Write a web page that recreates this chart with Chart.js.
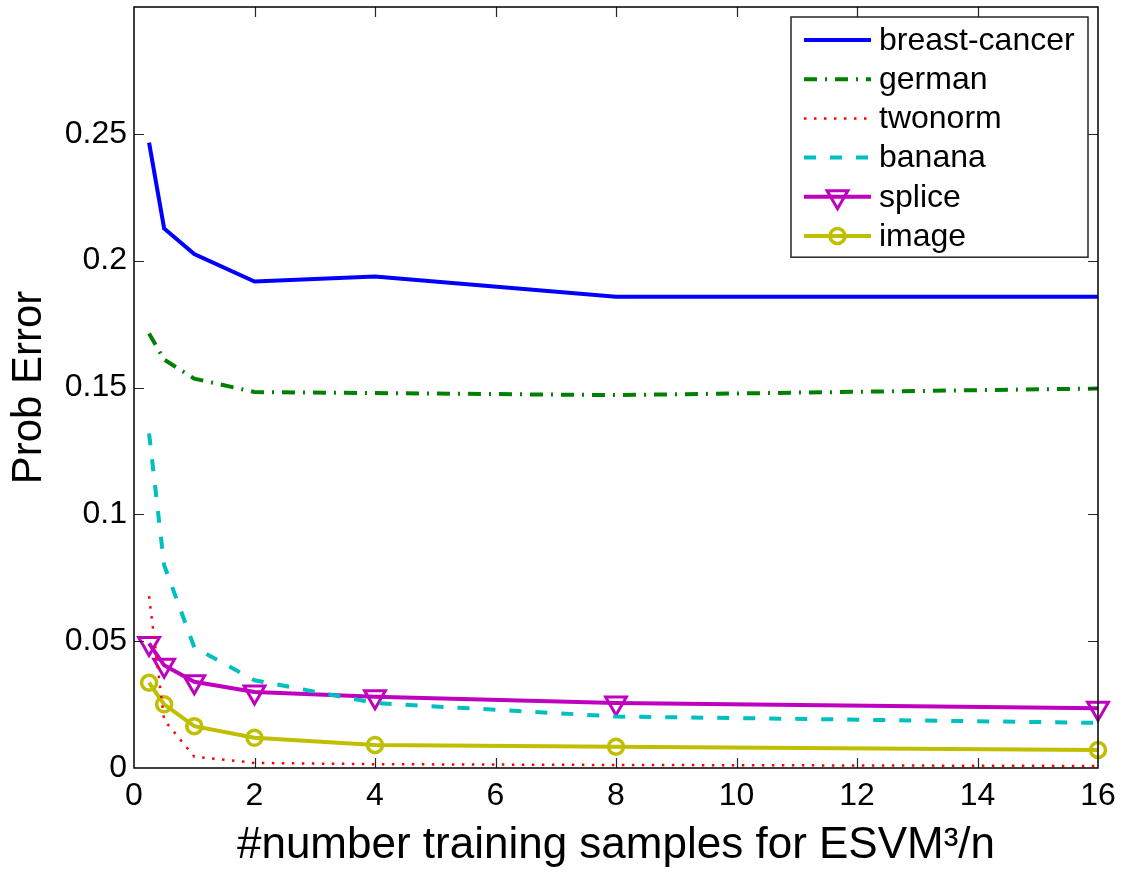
<!DOCTYPE html>
<html>
<head>
<meta charset="utf-8">
<title>Prob Error vs training samples</title>
<script src="https://cdn.jsdelivr.net/npm/chart.js@4.4.1/dist/chart.umd.min.js"></script>
<style>
    html, body { margin: 0; padding: 0; background: #fff; }
    #wrap { width: 1123px; height: 873px; }
</style>
</head>
<body>
<div id="wrap"><canvas id="chart" width="1123" height="873"></canvas></div>
<script>
// x positions (#number training samples / n)
const samples = [0.25, 0.5, 1, 2, 4, 8, 16];

// probability of error per data set
const breastCancer = [0.2465, 0.2127, 0.2026, 0.1918, 0.1938, 0.1858, 0.1858];
const german = [0.1713, 0.1610, 0.1535, 0.1482, 0.1478, 0.1470, 0.1496];
const twonorm = [0.0677, 0.0189, 0.0045, 0.0020, 0.0015, 0.0012, 0.0008];
const banana = [0.1319, 0.0800, 0.0476, 0.0346, 0.0256, 0.0203, 0.0178];
const splice = [0.0491, 0.0405, 0.0340, 0.0300, 0.0281, 0.0256, 0.0236];
const image = [0.0336, 0.0251, 0.0165, 0.0119, 0.0091, 0.0084, 0.0071];

const xTicks = [0, 2, 4, 6, 8, 10, 12, 14, 16];
const yTicks = [0, 0.05, 0.1, 0.15, 0.2, 0.25];

const FONT = '"Liberation Sans", Arial, Helvetica, sans-serif';

function points(values) {
    return samples.map((x, i) => ({ x, y: values[i] }));
}

function series(label, values, color, extra) {
    return Object.assign({
        label,
        data: points(values),
        borderColor: color,
        backgroundColor: color,
        borderWidth: 4,
        pointRadius: 0,
        pointHoverRadius: 0,
        tension: 0,
        fill: false,
        clip: false
    }, extra || {});
}

const datasets = [
    series('breast-cancer', breastCancer, '#0000ff'),
    series('german', german, '#008000', { borderDash: [13, 8, 2, 8] }),
    series('twonorm', twonorm, '#ff0000', { borderWidth: 2.5, borderDash: [2.5, 7.5] }),
    series('banana', banana, '#00bfbf', { borderDash: [12, 14] }),
    series('splice', splice, '#bf00bf', {
        pointStyle: 'triangle', rotation: 180, pointRadius: 12,
        pointBorderWidth: 3, pointBackgroundColor: 'rgba(0,0,0,0)'
    }),
    series('image', image, '#bfbf00', {
        pointStyle: 'circle', pointRadius: 7.5,
        pointBorderWidth: 3.5, pointBackgroundColor: 'rgba(0,0,0,0)'
    })
];

// MATLAB style box with inward ticks on all four sides
const boxTicks = {
    id: 'boxTicks',
    afterDatasetsDraw(chart) {
        const { ctx, chartArea: a } = chart;
        const xs = chart.scales.x;
        const ys = chart.scales.y;
        const len = 10;
        ctx.save();
        ctx.strokeStyle = '#262626';
        ctx.lineWidth = 1.2;
        ctx.beginPath();
        xTicks.forEach(v => {
            const px = Math.round(xs.getPixelForValue(v)) + 0.5;
            if (px <= a.left + 1 || px >= a.right - 1) return;
            ctx.moveTo(px, a.bottom); ctx.lineTo(px, a.bottom - len);
            ctx.moveTo(px, a.top); ctx.lineTo(px, a.top + len);
        });
        yTicks.forEach(v => {
            const py = Math.round(ys.getPixelForValue(v)) + 0.5;
            if (py <= a.top + 1 || py >= a.bottom - 1) return;
            ctx.moveTo(a.left, py); ctx.lineTo(a.left + len, py);
            ctx.moveTo(a.right, py); ctx.lineTo(a.right - len, py);
        });
        ctx.stroke();
        ctx.strokeStyle = '#000';
        ctx.lineWidth = 1.5;
        ctx.strokeRect(a.left, a.top, a.right - a.left, a.bottom - a.top);
        ctx.restore();
    }
};

function drawMarker(ctx, ds, x, y) {
    const r = ds.pointRadius;
    ctx.save();
    ctx.setLineDash([]);
    ctx.lineWidth = ds.pointBorderWidth;
    ctx.strokeStyle = ds.borderColor;
    ctx.beginPath();
    if (ds.pointStyle === 'triangle') {
        const h = Math.sqrt(3) / 2 * r;
        ctx.moveTo(x - h, y - r / 2);
        ctx.lineTo(x + h, y - r / 2);
        ctx.lineTo(x, y + r);
        ctx.closePath();
    } else {
        ctx.arc(x, y, r, 0, Math.PI * 2);
    }
    ctx.stroke();
    ctx.restore();
}

// legend box in the upper right corner of the plot
const boxLegend = {
    id: 'boxLegend',
    afterDraw(chart) {
        const { ctx, chartArea: a } = chart;
        const w = 297, rowH = 39.2;
        const left = a.right - 10 - w;
        const top = a.top + 10;
        const h = rowH * chart.data.datasets.length + 5;
        ctx.save();
        ctx.fillStyle = '#fff';
        ctx.fillRect(left, top, w, h);
        ctx.strokeStyle = '#262626';
        ctx.lineWidth = 1.5;
        ctx.strokeRect(left, top, w, h);
        ctx.font = '32px ' + FONT;
        ctx.textBaseline = 'middle';
        ctx.textAlign = 'left';
        chart.data.datasets.forEach((ds, i) => {
            const y = top + 23 + i * rowH;
            const x0 = left + 13, x1 = left + 80;
            ctx.save();
            ctx.strokeStyle = ds.borderColor;
            ctx.lineWidth = ds.borderWidth;
            ctx.setLineDash(ds.borderDash || []);
            ctx.beginPath();
            ctx.moveTo(x0, y);
            ctx.lineTo(x1, y);
            ctx.stroke();
            ctx.restore();
            if (ds.pointRadius > 0) {
                drawMarker(ctx, ds, (x0 + x1) / 2, y);
            }
            ctx.fillStyle = '#000';
            ctx.fillText(ds.label, left + 88, y + 1);
        });
        ctx.restore();
    }
};

const chart = new Chart(document.getElementById('chart').getContext('2d'), {
    type: 'line',
    data: { datasets },
    options: {
        responsive: false,
        animation: false,
        events: [],
        layout: { autoPadding: false, padding: { top: 7, right: 25, left: 0, bottom: 0 } },
        plugins: {
            legend: { display: false },
            tooltip: { enabled: false }
        },
        scales: {
            x: {
                type: 'linear',
                min: 0,
                max: 16,
                afterBuildTicks: scale => { scale.ticks = xTicks.map(value => ({ value })); },
                afterFit: scale => {
                    scale.height = 105;
                    scale.paddingLeft = 0;
                    scale.paddingRight = 0;
                },
                grid: { display: false, drawTicks: false },
                border: { display: false },
                ticks: {
                    color: '#000',
                    padding: 9,
                    maxRotation: 0,
                    font: { family: FONT, size: 32 },
                    callback: v => String(v)
                },
                title: {
                    display: true,
                    text: '#number training samples for ESVM\u00b3/n',
                    color: '#000',
                    font: { family: FONT, size: 44 },
                    padding: { top: 0, bottom: 1 }
                }
            },
            y: {
                type: 'linear',
                min: 0,
                max: 0.3,
                afterBuildTicks: scale => { scale.ticks = yTicks.map(value => ({ value })); },
                afterFit: scale => {
                    scale.width = 134;
                    scale.paddingTop = 0;
                    scale.paddingBottom = 0;
                },
                grid: { display: false, drawTicks: false },
                border: { display: false },
                ticks: {
                    color: '#000',
                    padding: 7,
                    font: { family: FONT, size: 32 },
                    callback: v => String(+v.toFixed(2))
                },
                title: {
                    display: true,
                    text: 'Prob Error',
                    color: '#000',
                    font: { family: FONT, size: 42 },
                    padding: { top: 4, bottom: 0 }
                }
            }
        }
    },
    plugins: [boxTicks, boxLegend]
});
</script>
</body>
</html>
